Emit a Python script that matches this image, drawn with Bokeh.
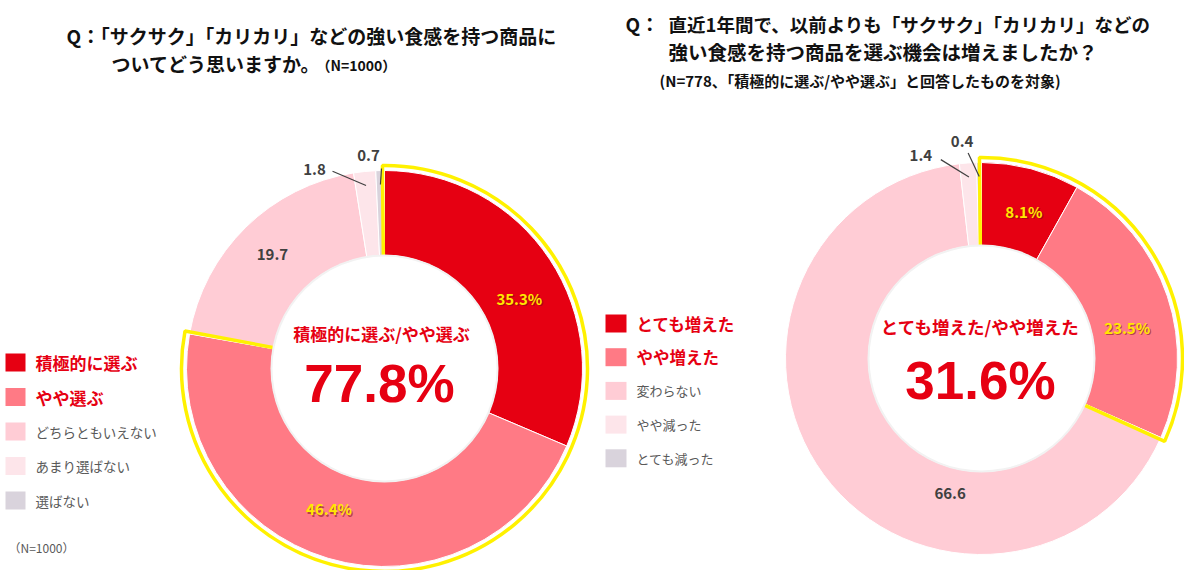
import numpy as np
from bokeh.plotting import figure
from bokeh.models import Range1d, ColumnDataSource
from bokeh.core.properties import value
from bokeh.embed import file_html
from bokeh.resources import INLINE

# ---------------- data ----------------
left_categories = ["積極的に選ぶ", "やや選ぶ", "どちらともいえない", "あまり選ばない", "選ばない"]
left_values = [31.4, 46.4, 19.7, 1.8, 0.7]
left_labels = ["35.3%", "46.4%", "19.7", "1.8", "0.7"]

right_categories = ["とても増えた", "やや増えた", "変わらない", "やや減った", "とても減った"]
right_values = [8.1, 23.5, 66.6, 1.4, 0.4]
right_labels = ["8.1%", "23.5%", "66.6", "1.4", "0.4"]

left_title = ["Q：「サクサク」「カリカリ」などの強い食感を持つ商品に", "ついてどう思いますか。", "（N=1000）"]
right_title = ["Q：", "直近1年間で、以前よりも「サクサク」「カリカリ」などの",
               "強い食感を持つ商品を選ぶ機会は増えましたか？",
               "(N=778、「積極的に選ぶ/やや選ぶ」と回答したものを対象)"]
left_center_title = "積極的に選ぶ/やや選ぶ"
right_center_title = "とても増えた/やや増えた"
footnote = "（N=1000）"

# ---------------- styles ----------------
colors = ["#E60012", "#FF7A85", "#FFCCD5", "#FDE5EA", "#D9D3DC"]
RED = "#E60012"
YELLOW = "#FFE800"
DARK = "#404040"
GREY = "#595959"
FONT = "Noto Sans CJK JP"
NUMFONT = "Liberation Sans"

W, H = 1184, 570
p = figure(width=W, height=H, output_backend="svg", toolbar_location=None,
           x_range=Range1d(0, W), y_range=Range1d(578 - H, 578), min_border=0)
p.axis.visible = False
p.grid.visible = False
p.outline_line_color = None
p.background_fill_color = "white"
p.border_fill_color = "white"


def Y(py):
    return 578 - py


def txt(x, y, s, size, color, bold=True, align="center", font=FONT):
    p.text(x=[x], y=[Y(y)], text=[s], text_font=value(font), text_font_size=f"{size}px",
           text_color=color, text_font_style="bold" if bold else "normal",
           text_align=align, text_baseline="middle")


def donut(cx, cy, r_out, r_in, values, labels, inside_specs, outside_specs):
    vals = np.array(values, dtype=float)
    cum = np.concatenate([[0.0], np.cumsum(vals)]) / 100.0
    starts = np.pi / 2 - 2 * np.pi * cum[:-1]
    ends = np.pi / 2 - 2 * np.pi * cum[1:]
    src = ColumnDataSource(dict(x=[cx] * len(vals), y=[Y(cy)] * len(vals),
                                start=starts, end=ends, color=colors[:len(vals)]))
    p.annular_wedge(x="x", y="y", inner_radius=r_in, outer_radius=r_out,
                    start_angle="start", end_angle="end", direction="clock",
                    fill_color="color", line_color="white", line_width=1, source=src)
    # yellow highlight outline of the first two slices
    ext = 2.0 / r_out
    p.annular_wedge(x=[cx], y=[Y(cy)], inner_radius=r_in - 6, outer_radius=r_out + 5,
                    start_angle=[starts[0] + ext], end_angle=[ends[1] - ext], direction="clock",
                    fill_color=None, line_color="#FFF100", line_width=3.5)
    # soft shadow ring + white centre
    p.circle(x=[cx], y=[Y(cy)], radius=r_in + 1, fill_color="#F2F2F2", line_color=None)
    p.circle(x=[cx], y=[Y(cy)], radius=r_in - 1, fill_color="white", line_color=None)

    mids = (cum[:-1] + cum[1:]) / 2.0
    # inside labels
    for i, (rad, shift, kind) in inside_specs.items():
        th = np.pi / 2 - 2 * np.pi * mids[i] - np.deg2rad(shift)
        x = cx + rad * np.cos(th)
        y = cy - rad * np.sin(th)
        if kind == "y":
            p.text(x=[x + 1.2], y=[Y(y) - 1.2], text=[labels[i]], text_font=value(FONT),
                   text_font_size="15px", text_color="#7A1010", text_alpha=0.55,
                   text_font_style="bold", text_align="center", text_baseline="middle")
            txt(x, y, labels[i], 15, YELLOW)
        else:
            txt(x, y, labels[i], 15, DARK)
    # outside labels with leader lines
    for i, (shift, r2, dx, dy) in outside_specs.items():
        th1 = np.pi / 2 - 2 * np.pi * mids[i]
        r1 = r_out - 14
        x1, y1 = cx + r1 * np.cos(th1), cy - r1 * np.sin(th1)
        th2 = th1 - np.deg2rad(shift)
        x2, y2 = cx + r2 * np.cos(th2), cy - r2 * np.sin(th2)
        p.line(x=[x1, x2], y=[Y(y1), Y(y2)], line_color=DARK, line_width=1.2)
        txt(x2 + dx, y2 + dy, labels[i], 15, DARK)
    return vals


# ---------------- left donut ----------------
lv = donut(384, 368, 198, 113, left_values, left_labels,
           {0: (152, 6, "y"), 1: (151, 5, "y"), 2: (160, 0, "d")},
           {3: (-9, 204, -18, -2), 4: (0.4, 200, -13, -13)})
txt(381, 333, left_center_title, 17, RED)
txt(379, 383, f"{lv[0] + lv[1]:.1f}%", 53, RED, font=NUMFONT)

# ---------------- right donut ----------------
rv = donut(981, 358, 196, 113, right_values, right_labels,
           {0: (153, 1.5, "y"), 1: (149, 6.5, "y"), 2: (139, -40.6, "d")},
           {3: (-7.6, 203, -20, -4), 4: (-3, 206, -6, -11)})
txt(980, 326, right_center_title, 17.5, RED)
txt(980, 380, f"{rv[0] + rv[1]:.1f}%", 53, RED, font=NUMFONT)

# ---------------- titles ----------------
txt(66, 35, left_title[0], 19, "#111111", align="left")
txt(111, 63, left_title[1], 19, "#111111", align="left")
txt(316, 64, left_title[2], 14, "#111111", align="left")

txt(625, 23, right_title[0], 19, "#111111", align="left")
txt(668, 23, right_title[1], 18.5, "#111111", align="left")
txt(668, 51, right_title[2], 19.5, "#111111", align="left")
txt(659, 80, right_title[3], 15, "#111111", align="left")

# ---------------- legends ----------------
def legend(x0, y0, step, cats, big_size, small_size, sq_w, sq_h):
    ys = [y0 + i * step for i in range(len(cats))]
    p.rect(x=[x0 + sq_w / 2] * len(cats), y=[Y(v) for v in ys], width=sq_w, height=sq_h,
           fill_color=colors[:len(cats)], line_color=None)
    for i, c in enumerate(cats):
        if i < 2:
            txt(x0 + sq_w + 10, ys[i], c, big_size, RED, align="left")
        else:
            txt(x0 + sq_w + 10, ys[i], c, small_size, GREY, bold=False, align="left")


legend(5, 362, 34.5, left_categories, 17, 13.5, 20, 18)
legend(605, 323, 33.7, right_categories, 16.5, 13, 21, 18)
txt(8, 547, footnote, 12, GREY, bold=False, align="left")

open("out.html", "w").write(file_html(p, INLINE))
